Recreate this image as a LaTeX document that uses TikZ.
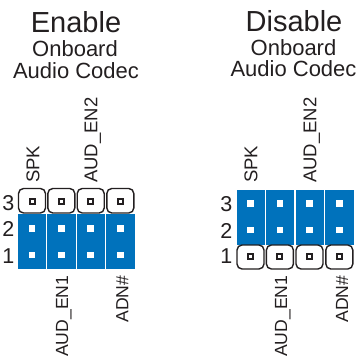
\documentclass[tikz,border=0pt]{standalone}
\usepackage{fontspec}
\setmainfont{Liberation Sans}
\definecolor{capblue}{RGB}{0,114,188}
\definecolor{pinblack}{RGB}{35,31,32}
\tikzset{
  title/.style={font=\fontsize{29}{29}\selectfont, text=pinblack, inner sep=0pt, anchor=base},
  subtitle/.style={font=\fontsize{22}{22}\selectfont, text=pinblack, inner sep=0pt, anchor=base},
  pinlabel/.style={font=\fontsize{18.5}{18.5}\selectfont, text=pinblack, inner sep=0pt, rotate=90},
  lowlabel/.style={pinlabel, font=\fontsize{17.6}{17.6}\selectfont, anchor=base east},
  rownum/.style={font=\fontsize{21.5}{21.5}\selectfont, text=pinblack, inner sep=0pt, anchor=base east},
  capfill/.style={fill=capblue, draw=white, line width=0.6pt},
  capring/.style={draw=pinblack, fill=white, line width=1.4pt, rounded corners=5pt},
  pinwhite/.style={fill=white},
  pinopen/.style={draw=pinblack, fill=white, line width=2pt}
}
\begin{document}
\begin{tikzpicture}[x=1pt,y=-1pt]
\useasboundingbox (0,0) rectangle (358,358);
% Enable
\node [title] (entitle) at (76,33) {Enable};
\node [subtitle] (enboard) at (75,57) {Onboard};
\node [subtitle] (encodec) at (76,79) {Audio Codec};
\node [rownum] (enthree) at (14.5,210.5) {3};
\node [rownum] (entwo) at (14.5,236.5) {2};
\node [rownum] (enone) at (14.5,263) {1};
\foreach \n/\x in {a/32,b/61.3,c/90.7,d/120.3}{
  \fill [capfill] (\x-14.7,213.5) rectangle (\x+14.7,269.5);
  \draw [capring] (\x-13.5,188.5) rectangle (\x+13.5,213);
  \draw [pinopen] (\x-2.5,198.5) rectangle (\x+2.5,203.5);
  \fill [pinwhite] (\x-3.3,225) rectangle (\x+3.3,231.6);
  \fill [pinwhite] (\x-3.3,251.7) rectangle (\x+3.3,258.3);
}
\node [pinlabel, anchor=base west] (enspk) at (39.3,183) {SPK};
\node [pinlabel, anchor=base west] (enaudtwo) at (97.3,183) {AUD\_EN2};
\node [lowlabel] (enaudone) at (68,275.5) {AUD\_EN1};
\node [lowlabel] (enadn) at (128.3,275.5) {ADN\#};
% Disable
\node [title] (distitle) at (294,32) {Disable};
\node [subtitle] (disboard) at (293.5,56) {Onboard};
\node [subtitle] (discodec) at (293.5,77) {Audio Codec};
\node [rownum] (disthree) at (232.5,211) {3};
\node [rownum] (distwo) at (232.5,238) {2};
\node [rownum] (disone) at (232.5,263) {1};
\foreach \n/\x in {a/250.5,b/279.9,c/309.5,d/339.3}{
  \fill [capfill] (\x-14.7,189) rectangle (\x+14.7,245);
  \draw [capring] (\x-13.5,245) rectangle (\x+13.5,269);
  \draw [pinopen] (\x-2.5,253.5) rectangle (\x+2.5,258.5);
  \fill [pinwhite] (\x-3.3,200.3) rectangle (\x+3.3,206.9);
  \fill [pinwhite] (\x-3.3,226.7) rectangle (\x+3.3,233.3);
}
\node [pinlabel, anchor=base west] (disspk) at (257.3,183) {SPK};
\node [pinlabel, anchor=base west] (disaudtwo) at (316.3,183) {AUD\_EN2};
\node [lowlabel] (disaudone) at (287,275.5) {AUD\_EN1};
\node [lowlabel] (disadn) at (348,275.5) {ADN\#};
\end{tikzpicture}
\end{document}
